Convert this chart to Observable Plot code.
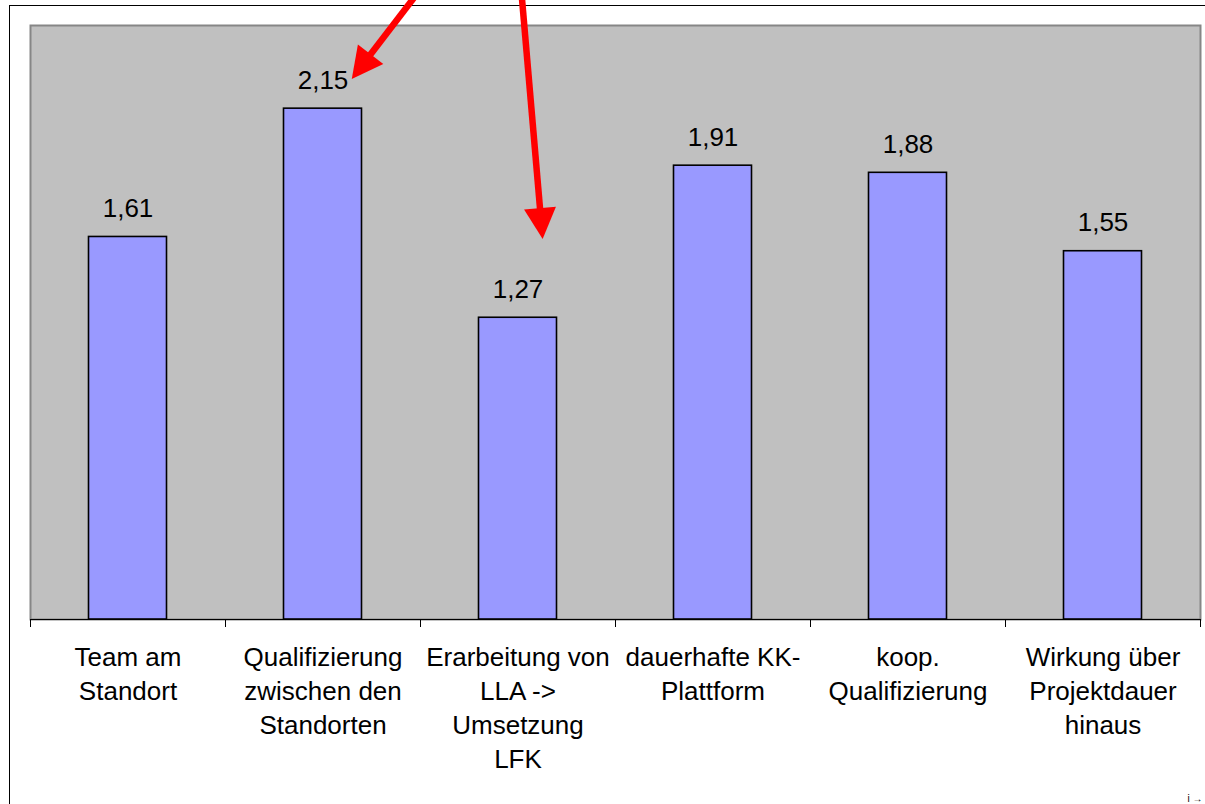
<!DOCTYPE html>
<html>
<head>
<meta charset="utf-8">
<script src="https://cdn.jsdelivr.net/npm/d3@7"></script>
<script src="https://cdn.jsdelivr.net/npm/@observablehq/plot@0.6"></script>
<style>
  html, body { margin: 0; padding: 0; background: #fff; overflow: hidden; }
  #wrap { position: relative; width: 1205px; height: 804px; overflow: hidden; }
  #border { position: absolute; left: 9px; top: 5px; width: 1300px; height: 900px; border: 1px solid #000; }
  #chart { position: absolute; left: 0; top: 0; }
</style>
</head>
<body>
<div id="wrap"><div id="border"></div><div id="chart"></div></div>
<script>
const categories = [
  "Team am\nStandort",
  "Qualifizierung\nzwischen den\nStandorten",
  "Erarbeitung von\nLLA ->\nUmsetzung\nLFK",
  "dauerhafte KK-\nPlattform",
  "koop.\nQualifizierung",
  "Wirkung über\nProjektdauer\nhinaus"
];
const values = [1.61, 2.15, 1.27, 1.91, 1.88, 1.55];
// annotation arrows: start (x1,y1) -> tip (x2,y2) in data units (x = category index)
const arrowStartX = [1.474, 2.022];
const arrowStartY = [2.62, 2.62];
const arrowTipX = [1.150, 2.129];
const arrowTipY = [2.273, 1.599];

const data = categories.map((label, i) => ({i, label, value: values[i]}));
const boundaries = d3.range(categories.length + 1).map(k => k - 0.5);
const arrows = arrowStartX.map((_, k) => ({x1: arrowStartX[k], y1: arrowStartY[k], x2: arrowTipX[k], y2: arrowTipY[k]}));
const de = d3.formatLocale({decimal: ",", thousands: ".", grouping: [3], currency: ["", " €"]});
const fmt = de.format(".2f");

function arrowMark(index, scales) {
  const g = d3.create("svg:g");
  for (const a of arrows) {
    const sx = scales.x(a.x1), sy = scales.y(a.y1);
    const tx = scales.x(a.x2), ty = scales.y(a.y2);
    const len = Math.hypot(tx - sx, ty - sy);
    const ux = (tx - sx) / len, uy = (ty - sy) / len;
    const nx = -uy, ny = ux;
    const hl = 31, hw = 16;
    const bx = tx - ux * hl, by = ty - uy * hl;
    g.append("line")
      .attr("x1", sx).attr("y1", sy)
      .attr("x2", bx + ux * 4).attr("y2", by + uy * 4)
      .attr("stroke", "#ff0000").attr("stroke-width", 6.5);
    g.append("path")
      .attr("d", `M${tx},${ty}L${bx + nx * hw},${by + ny * hw}L${bx - nx * hw},${by - ny * hw}Z`)
      .attr("fill", "#ff0000");
  }
  return g.node();
}

const chart = Plot.plot({
  width: 1205,
  height: 804,
  marginLeft: 30,
  marginRight: 5,
  marginTop: 25,
  marginBottom: 185,
  x: {domain: [-0.5, categories.length - 0.5]},
  y: {domain: [0, 2.5], axis: null},
  style: {background: "transparent", fontFamily: "'Liberation Sans', Arial, sans-serif", color: "#000"},
  marks: [
    Plot.frame({fill: "#c0c0c0", stroke: "#868686", strokeWidth: 2}),
    Plot.rectY(data, {x1: d => d.i - 0.2, x2: d => d.i + 0.2, y: "value", fill: "#9999ff", stroke: "#000", strokeWidth: 1.6}),
    Plot.ruleY([0], {stroke: "#000", strokeWidth: 1.2}),
    Plot.axisX({ticks: boundaries, tickSize: 8, tickFormat: () => "", stroke: "#000"}),
    Plot.text(data, {x: "i", y: "value", text: d => fmt(d.value), lineAnchor: "bottom", dy: -20, fontSize: 26, fill: "#000"}),
    Plot.text(data, {x: "i", y: 0, text: "label", lineAnchor: "top", dy: 22, fontSize: 26, lineHeight: 1.31, fill: "#000"}),
    arrowMark
  ]
});
chart.querySelectorAll("text").forEach(t => {
  if (t.textContent.includes("\u26A0")) t.remove();
});
document.getElementById("chart").appendChild(chart);
</script>
</body>
</html>
